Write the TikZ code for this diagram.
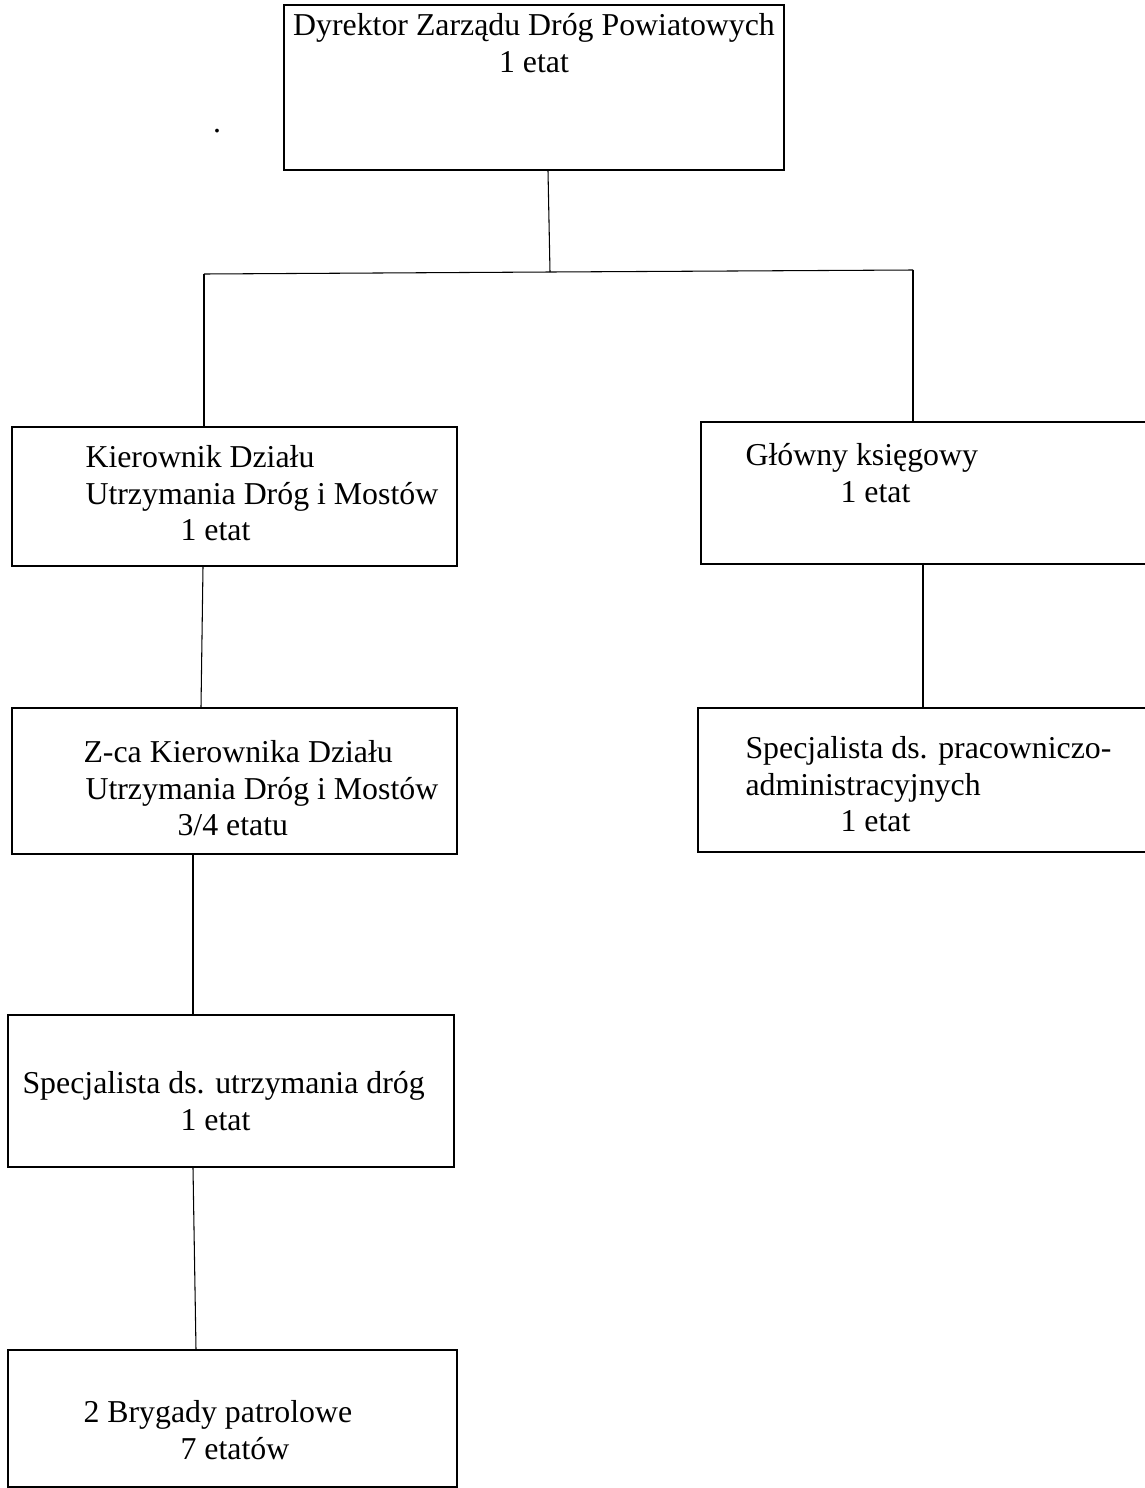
\documentclass[tikz,border=0pt]{standalone}
\usepackage{fontspec}
\setmainfont{Liberation Serif}
\usetikzlibrary{calc}

\newlength\pxu
\setlength\pxu{0.377pt}

\begin{document}
\begin{tikzpicture}[
    x=\pxu, y=-\pxu,
    box/.style 2 args={
        rectangle,
        draw,
        line width=0.6pt,
        minimum width=#1\pxu,
        minimum height=#2\pxu,
        inner sep=0pt
    },
    txt/.style={
        anchor=north west,
        inner sep=0pt,
        align=left,
        font=\fontsize{12pt}{13.8pt}\selectfont
    },
    link/.style={
        draw,
        line width=0.4pt
    }
]
    \useasboundingbox (0,0) rectangle (1145,1488);

    % Boxes
    \node[box={500}{165}] (dyr) at (534,87.5) {};
    \node[box={445}{139}] (kier) at (234.5,496.5) {};
    \node[box={449}{142}] (gk) at (925.5,493) {};
    \node[box={445}{146}] (zca) at (234.5,781) {};
    \node[box={452}{144}] (spa) at (924,780) {};
    \node[box={446}{152}] (spd) at (231,1091) {};
    \node[box={449}{137}] (bry) at (232.5,1418.5) {};

    % Texts
    \node[txt, anchor=north, align=center] (dyrtxt) at (534,13)
        {Dyrektor Zarządu Dróg Powiatowych\\1 etat};
    \node[txt] (kiertxt) at (85,445)
        {Kierownik Działu\\Utrzymania Dróg i Mostów\\\hspace*{95\pxu}1 etat};
    \node[txt] (gktxt) at (745,443)
        {Główny księgowy\\\hspace*{95\pxu}1 etat};
    \node[txt] (zcatxt) at (83,740)
        {Z-ca Kierownika Działu\\\hspace*{2\pxu}Utrzymania Dróg i Mostów\\\hspace*{94\pxu}3/4 etatu};
    \node[txt] (spatxt) at (745,736)
        {Specjalista ds. pracowniczo-\\administracyjnych\\\hspace*{95\pxu}1 etat};
    \node[txt] (spdtxt) at (22,1071)
        {Specjalista ds. utrzymania dróg\\\hspace*{158\pxu}1 etat};
    \node[txt] (brytxt) at (83,1400)
        {2 Brygady patrolowe\\\hspace*{97\pxu}7 etatów};
    \node[txt, anchor=base] (dot) at (217,132) {.};

    % Junctions
    \coordinate (j) at (550,272);
    \coordinate (jl) at (204,274);
    \coordinate (jr) at (913,270);

    % Connectors
    \draw[link] ($(dyr.south)+(14,0)$) -- (j);
    \draw[link] (jl) -- (j) -- (jr);
    \draw[link] (jl) -- (kier.north -| jl);
    \draw[link] (jr) -- (gk.north -| jr);
    \draw[link] ($(kier.south)+(-31.5,0)$) -- ($(zca.north)+(-33.5,0)$);
    \draw[link] ($(gk.south)+(-2.5,-2)$) -- ($(spa.north)+(-1,0)$);
    \draw[link] ($(zca.south)+(-41.5,0)$) -- ($(spd.north)+(-38,0)$);
    \draw[link] ($(spd.south)+(-38,0)$) -- ($(bry.north)+(-36.5,0)$);
\end{tikzpicture}
\end{document}
